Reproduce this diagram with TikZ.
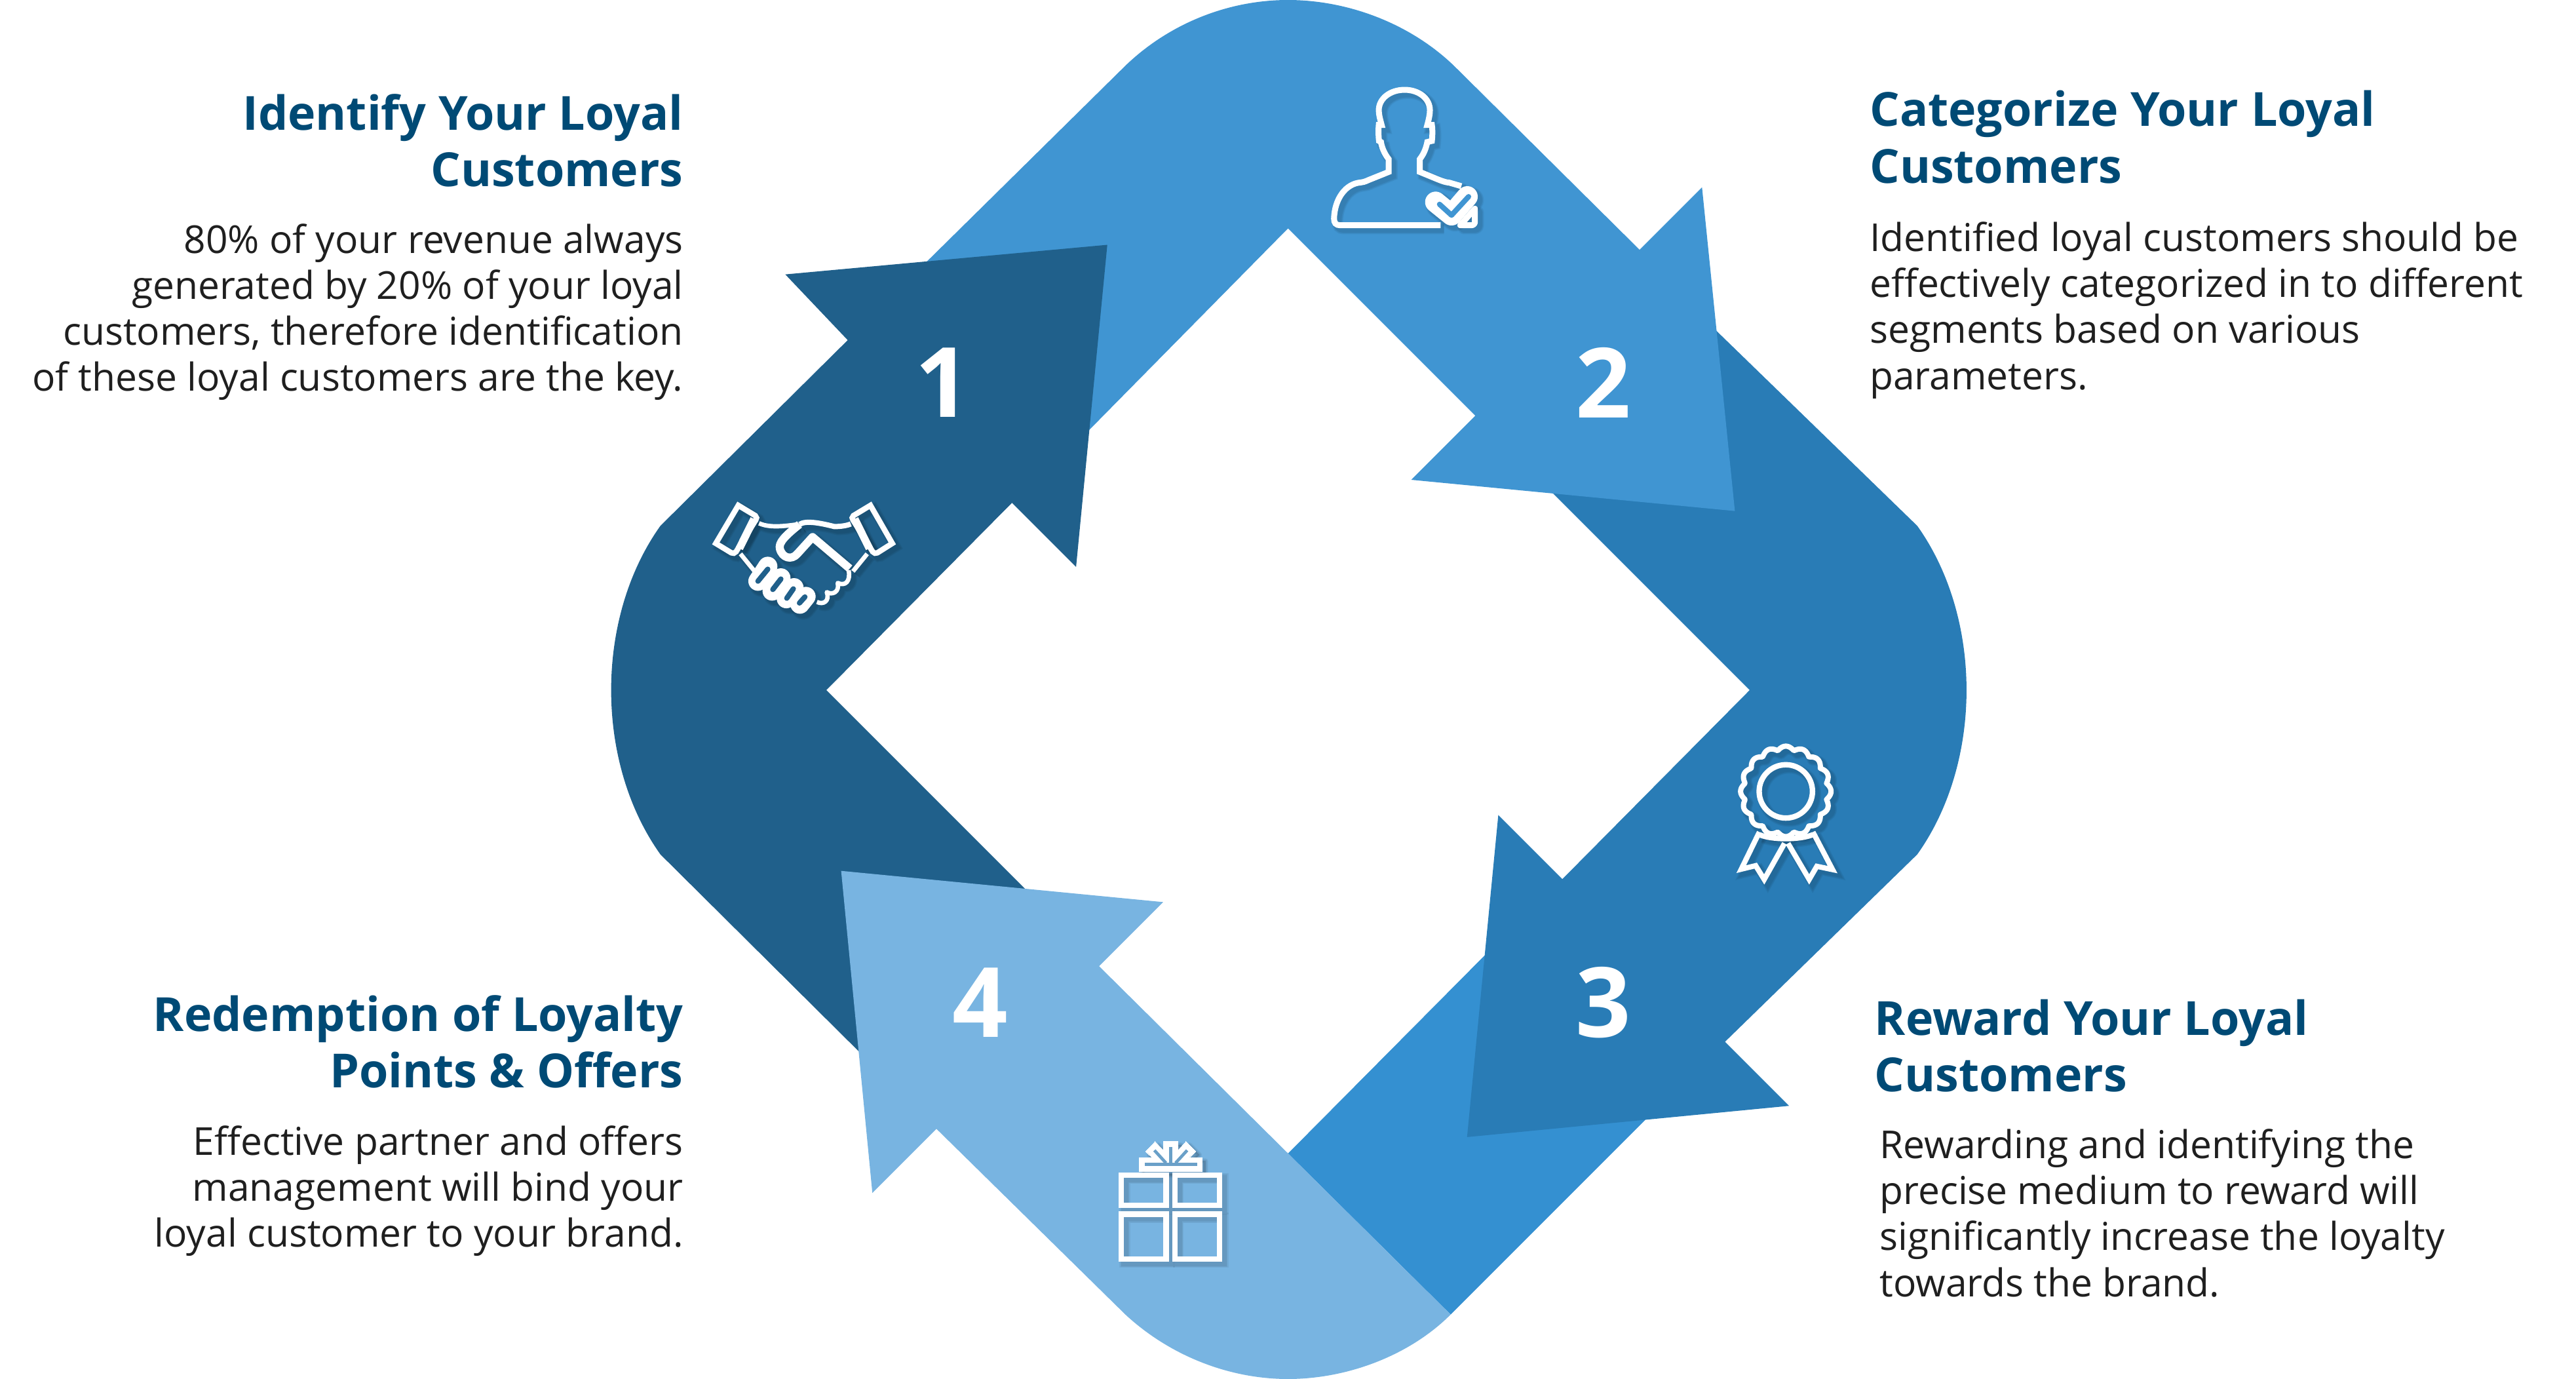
\documentclass[tikz,border=0pt]{standalone}
\usepackage{fontspec}
\setmainfont{Open Sans}
\definecolor{cA}{HTML}{20608B}
\definecolor{cB}{HTML}{4095D2}
\definecolor{cC}{HTML}{297CB6}
\definecolor{cD}{HTML}{78B4E1}
\definecolor{cE}{HTML}{3490D1}
\definecolor{cT}{HTML}{004A75}
\definecolor{cG}{HTML}{6AA0C8}
\tikzset{
  head/.style={inner sep=0pt,text=cT,font=\fontsize{40.7}{49}\selectfont\bfseries},
  body/.style={inner sep=0pt,text=black!88,font=\fontsize{33.3}{39.8}\selectfont},
  num/.style={inner sep=0pt,text=white,font=\fontsize{84}{84}\selectfont\bfseries},
  band/.style={draw=none},
  iconscope/.style={x=0.06648mm,y=-0.06648mm,line join=round,line cap=butt},
}
\newcommand{\personIcon}[2]{%
  \draw[#2,line width=(27+#1)*0.06648mm,line join=miter]
    (655,731) -- (195,731) .. controls (175,731) and (167,720) .. (167,700)
    .. controls (170,610) and (220,540) .. (290,535)
    .. controls (310,533) and (320,525) .. (340,518) -- (417,487) -- (417,428)
    .. controls (395,400) and (385,370) .. (382,350) -- (373,345)
    .. controls (370,320) and (370,290) .. (372,272) -- (385,272)
    .. controls (378,245) and (372,225) .. (372,205)
    .. controls (372,150) and (425,111) .. (490,111)
    .. controls (555,111) and (606,150) .. (606,205)
    .. controls (606,225) and (600,250) .. (594,272) -- (615,272)
    .. controls (618,290) and (618,320) .. (615,345) -- (594,350)
    .. controls (590,370) and (582,400) .. (560,428) -- (560,487)
    -- (640,520) .. controls (665,530) and (680,535) .. (695,536) -- (750,552);
  \draw[#2,line width=(27+#1)*0.06648mm,line join=round]
    (745,731) -- (795,731) .. controls (805,731) and (812,725) .. (812,715) -- (812,655) -- cycle;
  \draw[#2,line width=(96+#1)*0.06648mm,line cap=round,line join=round]
    (632,625) -- (705,684) -- (777,600);
}
\newcommand{\shakeIcon}[2]{%
  \draw[#2,line width=(25+#1)*0.06648mm,line join=miter]
    (97,267) -- (200,93) -- (278,140) .. controls (285,145) and (285,155) .. (280,160)
    -- (190,305) .. controls (185,312) and (175,315) .. (168,310) -- cycle;
  \draw[#2,line width=(25+#1)*0.06648mm,line join=miter]
    (905,267) -- (805,93) -- (727,140) .. controls (720,145) and (720,155) .. (725,160)
    -- (815,305) .. controls (820,312) and (830,315) .. (837,310) -- cycle;
  \draw[#2,line width=(35+#1)*0.06648mm] (272,155) -- (205,290);
  \draw[#2,line width=(35+#1)*0.06648mm] (733,155) -- (800,290);
  \draw[#2,line width=(20+#1)*0.06648mm]
    (295,175) .. controls (340,195) and (400,190) .. (470,180);
  \draw[#2,line width=(20+#1)*0.06648mm] (210,315) -- (275,395);
  \draw[#2,line width=(20+#1)*0.06648mm] (790,315) -- (725,395);
  \draw[#2,line width=(37+#1)*0.06648mm,line join=round]
    (710,382) -- (540,238) -- (470,315)
    .. controls (445,345) and (400,335) .. (390,290)
    .. controls (385,265) and (410,235) .. (480,180);
  \draw[#2,line width=(24+#1)*0.06648mm]
    (480,180) .. controls (510,160) and (580,175) .. (640,190)
    .. controls (670,190) and (700,185) .. (715,178);
  \draw[#2,line width=(20+#1)*0.06648mm]
    (705,390) .. controls (715,440) and (690,465) .. (655,448)
    .. controls (665,490) and (630,505) .. (605,490)
    .. controls (620,530) and (590,550) .. (560,535);
  \foreach \xa/\ya/\xb/\yb in {335/372/290/440, 395/425/355/485, 455/470/420/520, 510/510/482/545}{
    \draw[#2,line width=(88+#1)*0.06648mm,line cap=round] (\xa,\ya) -- (\xb,\yb);
  }
}
\newcommand{\rosetteIcon}[2]{%
  \draw[#2,line width=(25+#1)*0.06648mm] (316,292) circle (122);
  \draw[#2,line width=(24+#1)*0.06648mm,line join=round] plot[domain=0:360,samples=320]
    ({316+(190+17*abs(cos(8*\x)))*cos(\x)},{292+(190+17*abs(cos(8*\x)))*sin(\x)}) -- cycle;
  \draw[#2,line width=(24+#1)*0.06648mm,line join=miter]
    (195,478) -- (112,648) -- (178,632) -- (217,695) -- (310,530);
  \draw[#2,line width=(24+#1)*0.06648mm,line join=miter]
    (440,478) -- (530,650) -- (458,635) -- (423,695) -- (326,530);
  \draw[#2,line width=(24+#1)*0.06648mm]
    (195,490) .. controls (250,515) and (380,515) .. (440,490);
}
\newcommand{\giftIcon}[2]{%
  \foreach \xa/\ya/\xb/\yb in {94/218/299/357, 339/218/544/357, 94/397/299/602, 339/397/544/602}{
    \draw[#2,fill=none,line width=(25+#1)*0.06648mm,line join=miter] (\xa,\ya) rectangle (\xb,\yb);
  }
  \filldraw[#2,line width=#1*0.06648mm,line join=round]
    (175,138) -- (235,138) -- (205,110) -- (248,65) -- (287,105) -- (287,65)
    -- (352,65) -- (352,105) -- (390,65) -- (435,110) -- (405,138)
    -- (463,138) -- (463,203) -- (175,203) -- cycle;
}
\begin{document}
\begin{tikzpicture}[x=0.5mm,y=-0.5mm]
\useasboundingbox (0,0) rectangle (1568,839.24);
% ---- bands, back to front
\fill[cE,band] (784,702) -- (925,560) -- (1020,663) -- (883,800) -- cycle;
\fill[cC,band] (1089,673) -- (893,692) -- (912,496) -- (951,535) -- (1065,420) -- (930,285)
  -- (1030,187) -- (1167,320) .. controls (1187,348) and (1197,384) .. (1197,420)
  .. controls (1197,456) and (1187,492) .. (1167,520) -- (1050,634) -- cycle;
\fill[cB,band] (1036,114) -- (1056,311) -- (859,292) -- (898,253) -- (784,139) -- (640,285)
  -- (540,183) -- (685,40) .. controls (712,14) and (748,0) .. (784,0)
  .. controls (820,0) and (858,14) .. (885,40) -- (998,152) -- cycle;
\fill[cA,band] (478,167) -- (674,149) -- (655,345) -- (616,306) -- (503,420) -- (640,557)
  -- (540,657) -- (402,520) .. controls (382,492) and (372,456) .. (372,420)
  .. controls (372,384) and (382,348) .. (402,320) -- (516,207) -- cycle;
\fill[cD,band] (512,530) -- (708,549) -- (669,588) -- (883,800)
  .. controls (858,825) and (820,839.24) .. (784,839.24)
  .. controls (748,839.24) and (712,825) .. (685,800) -- (570,687) -- (531,726) -- cycle;
% ---- numbers
\node[num] (n1) at (574,233) {1};
\node[num] (n2) at (976,233) {2};
\node[num] (n3) at (976,610) {3};
\node[num] (n4) at (596.5,610) {4};
% ---- icons
\begin{scope}[shift={(789.8,39.9)},iconscope]
  \foreach \w in {24,16,8}{\begin{scope}[xshift=3,yshift=-3,opacity=0.05]\personIcon{\w}{draw=black,fill=none}\end{scope}}
  \personIcon{0}{draw=white}
  \draw[cB,line width=24*0.06648mm,line cap=round,line join=round] (650,635) -- (705,685) -- (783,600);
\end{scope}
\begin{scope}[shift={(422.8,295.2)},iconscope]
  \foreach \w in {24,16,8}{\begin{scope}[xshift=3,yshift=-3,opacity=0.05]\shakeIcon{\w}{draw=black}\end{scope}}
  \shakeIcon{0}{draw=white}
  \foreach \xa/\ya/\xb/\yb in {335/385/290/440, 395/430/358/478, 452/475/422/518, 505/512/480/540}{
    \draw[cA,line width=24*0.06648mm,line cap=round] (\xa,\ya) -- (\xb,\yb);
  }
\end{scope}
\begin{scope}[shift={(1045,442.8)},iconscope]
  \foreach \w in {24,16,8}{\begin{scope}[xshift=3,yshift=-3,opacity=0.05]\rosetteIcon{\w}{draw=black}\end{scope}}
  \rosetteIcon{0}{draw=white}
\end{scope}
\begin{scope}[shift={(670.1,686.1)},iconscope]
  \foreach \w in {24,16,8}{\begin{scope}[xshift=3,yshift=-3,opacity=0.05]\giftIcon{\w}{draw=black,fill=black}\end{scope}}
  \giftIcon{0}{draw=white,fill=white}
  \draw[cG,line width=14*0.06648mm] (200,170) -- (440,170);
  \draw[cG,line width=14*0.06648mm] (319,90) -- (319,163);
  \draw[cG,line width=14*0.06648mm] (245,105) -- (298,163);
  \draw[cG,line width=14*0.06648mm] (395,105) -- (342,163);
\end{scope}
% ---- texts
\node[head,anchor=north east,align=right] (t1) at (416,57) {Identify Your Loyal\\Customers};
\node[body,anchor=north east,align=right] (b1) at (416,136) {80\% of your revenue always\\generated by 20\% of your loyal\\customers, therefore identification\\of these loyal customers are the key.};
\node[head,anchor=north west,align=left] (t2) at (1138,55) {Categorize Your Loyal\\Customers};
\node[body,anchor=north west,align=left] (b2) at (1138,135) {Identified loyal customers should be\\effectively categorized in to different\\segments based on various\\parameters.};
\node[head,anchor=north west,align=left] (t3) at (1141,608) {Reward Your Loyal\\Customers};
\node[body,anchor=north west,align=left] (b3) at (1144,687) {Rewarding and identifying the\\precise medium to reward will\\significantly increase the loyalty\\towards the brand.};
\node[head,anchor=north east,align=right] (t4) at (416,605.5) {Redemption of Loyalty\\Points \& Offers};
\node[body,anchor=north east,align=right] (b4) at (416,685) {Effective partner and offers\\management will bind your\\loyal customer to your brand.};
\end{tikzpicture}
\end{document}
